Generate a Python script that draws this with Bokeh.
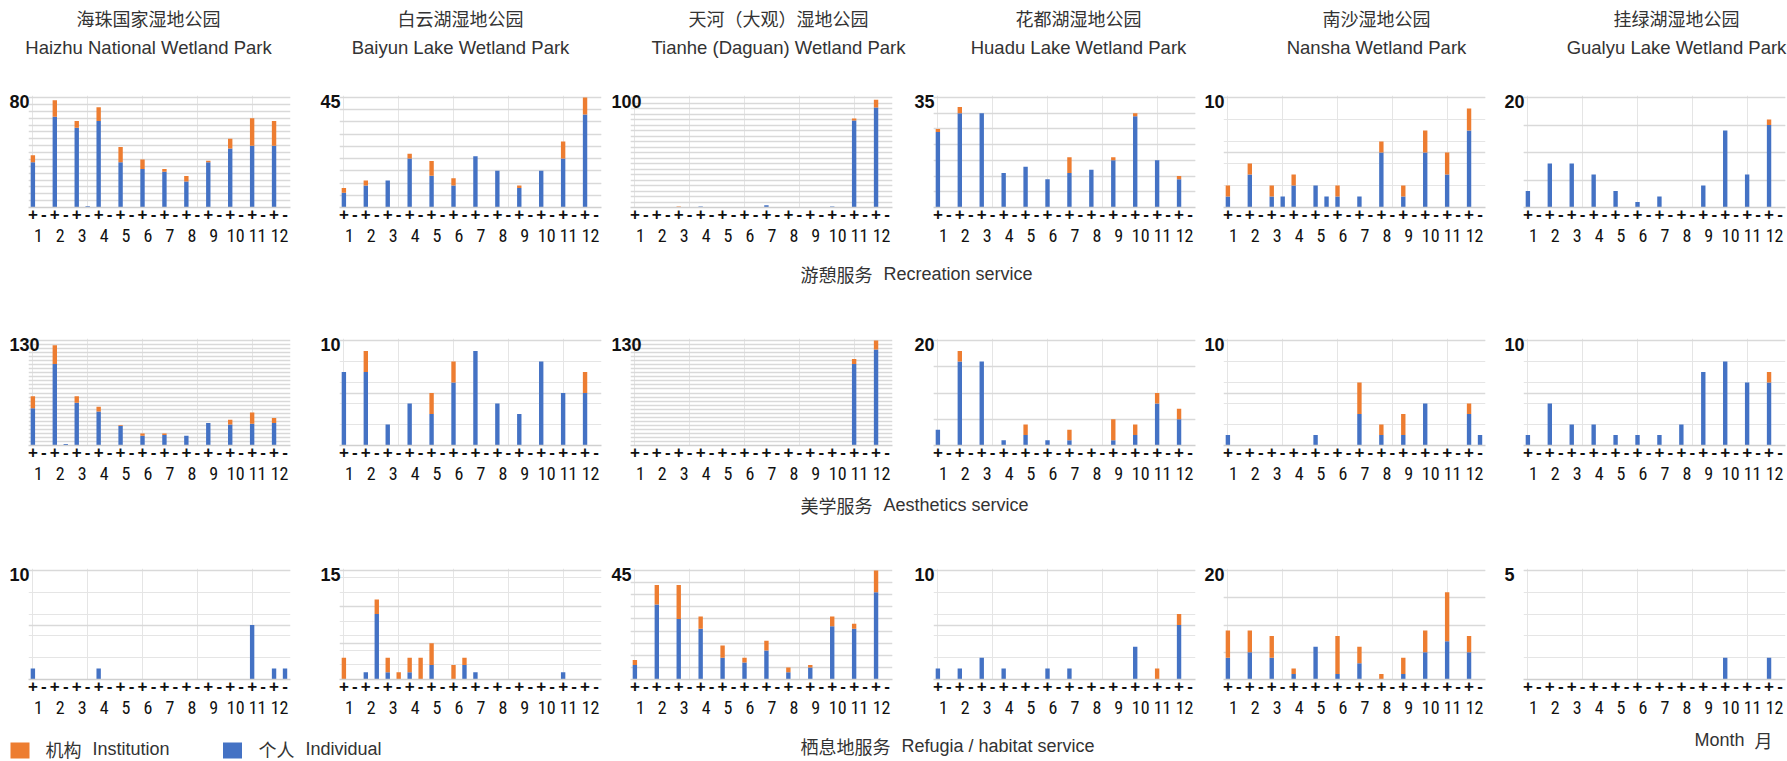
from bokeh.plotting import figure
from bokeh.layouts import row, column
from bokeh.models import Range1d, FixedTicker, LinearAxis, Grid, ColumnDataSource
from bokeh.core.properties import value
from bokeh.embed import file_html
from bokeh.resources import INLINE

# ---------------- data ----------------
MONTHS = ["1", "2", "3", "4", "5", "6", "7", "8", "9", "10", "11", "12"]
SIGNS = ["+", "-"]
PARKS_CN = ["海珠国家湿地公园", "白云湖湿地公园", "天河（大观）湿地公园", "花都湖湿地公园", "南沙湿地公园", "挂绿湖湿地公园"]
PARKS_EN = ["Haizhu National Wetland Park", "Baiyun Lake Wetland Park", "Tianhe (Daguan) Wetland Park",
            "Huadu Lake Wetland Park", "Nansha Wetland Park", "Gualyu Lake Wetland Park"]
SERVICES_CN = ["游憩服务", "美学服务", "栖息地服务"]
SERVICES_EN = ["Recreation service", "Aesthetics service", "Refugia / habitat service"]
LEGEND_CN = ["机构", "个人"]
LEGEND_EN = ["Institution", "Individual"]

YMAX_REC = [80, 45, 100, 35, 10, 20]
YMAX_AES = [130, 10, 130, 20, 10, 10]
YMAX_HAB = [10, 15, 45, 10, 20, 5]

# Recreation service: individual / institution, "+" and "-"
rec_haizhu_ind = [33, 66, 58, 63, 33, 28, 26, 19, 33, 43, 45, 45]
rec_haizhu_inst = [5, 12, 5, 10, 11, 7, 2, 4, 1, 7, 20, 18]
rec_haizhu_ind_neg = [0, 0, 1, 0, 0, 0, 0, 0, 0, 0, 0, 0]
rec_haizhu_inst_neg = [0, 0, 0, 0, 0, 0, 0, 0, 0, 0, 0, 0]
rec_baiyun_ind = [6, 9, 11, 20, 13, 9, 21, 15, 8, 15, 20, 38]
rec_baiyun_inst = [2, 2, 0, 2, 6, 3, 0, 0, 1, 0, 7, 7]
rec_baiyun_ind_neg = [0, 0, 0, 0, 0, 0, 0, 0, 0, 0, 0, 0]
rec_baiyun_inst_neg = [0, 0, 0, 0, 0, 0, 0, 0, 0, 0, 0, 0]
rec_tianhe_ind = [0, 0, 0, 1, 0, 0, 2, 0, 0, 1, 79, 91]
rec_tianhe_inst = [0, 0, 1, 0, 0, 0, 0, 0, 0, 0, 2, 7]
rec_tianhe_ind_neg = [0, 0, 0, 0, 0, 0, 0, 0, 0, 0, 0, 0]
rec_tianhe_inst_neg = [0, 0, 0, 0, 0, 0, 0, 0, 0, 0, 0, 0]
rec_huadu_ind = [24, 30, 30, 11, 13, 9, 11, 12, 15, 29, 15, 9]
rec_huadu_inst = [1, 2, 0, 0, 0, 0, 5, 0, 1, 1, 0, 1]
rec_huadu_ind_neg = [0, 0, 0, 0, 0, 0, 0, 0, 0, 0, 0, 0]
rec_huadu_inst_neg = [0, 0, 0, 0, 0, 0, 0, 0, 0, 0, 0, 0]
rec_nansha_ind = [1, 3, 1, 2, 2, 1, 1, 5, 1, 5, 3, 7]
rec_nansha_inst = [1, 1, 1, 1, 0, 1, 0, 1, 1, 2, 2, 2]
rec_nansha_ind_neg = [0, 0, 1, 0, 1, 0, 0, 0, 0, 0, 0, 0]
rec_nansha_inst_neg = [0, 0, 0, 0, 0, 0, 0, 0, 0, 0, 0, 0]
rec_gualyu_ind = [3, 8, 8, 6, 3, 1, 2, 0, 4, 14, 6, 15]
rec_gualyu_inst = [0, 0, 0, 0, 0, 0, 0, 0, 0, 0, 0, 1]
rec_gualyu_ind_neg = [0, 0, 0, 0, 0, 0, 0, 0, 0, 0, 0, 0]
rec_gualyu_inst_neg = [0, 0, 0, 0, 0, 0, 0, 0, 0, 0, 0, 0]

# Aesthetics service
aes_haizhu_ind = [46, 101, 53, 42, 24, 12, 13, 12, 28, 26, 27, 28]
aes_haizhu_inst = [15, 23, 8, 6, 1, 3, 2, 0, 0, 6, 14, 6]
aes_haizhu_ind_neg = [0, 2, 0, 0, 0, 0, 0, 0, 0, 0, 0, 0]
aes_haizhu_inst_neg = [0, 0, 0, 0, 0, 0, 0, 0, 0, 0, 0, 0]
aes_baiyun_ind = [7, 7, 2, 4, 3, 6, 9, 4, 3, 8, 5, 5]
aes_baiyun_inst = [0, 2, 0, 0, 2, 2, 0, 0, 0, 0, 0, 2]
aes_baiyun_ind_neg = [0, 0, 0, 0, 0, 0, 0, 0, 0, 0, 0, 0]
aes_baiyun_inst_neg = [0, 0, 0, 0, 0, 0, 0, 0, 0, 0, 0, 0]
aes_tianhe_ind = [0, 0, 0, 0, 0, 0, 0, 0, 0, 0, 101, 119]
aes_tianhe_inst = [0, 0, 0, 0, 0, 0, 0, 0, 0, 0, 6, 11]
aes_tianhe_ind_neg = [0, 0, 0, 0, 0, 0, 0, 0, 0, 0, 0, 0]
aes_tianhe_inst_neg = [0, 0, 0, 0, 0, 0, 0, 0, 0, 0, 0, 0]
aes_huadu_ind = [3, 16, 16, 1, 2, 1, 1, 0, 1, 2, 8, 5]
aes_huadu_inst = [0, 2, 0, 0, 2, 0, 2, 0, 4, 2, 2, 2]
aes_huadu_ind_neg = [0, 0, 0, 0, 0, 0, 0, 0, 0, 0, 0, 0]
aes_huadu_inst_neg = [0, 0, 0, 0, 0, 0, 0, 0, 0, 0, 0, 0]
aes_nansha_ind = [1, 0, 0, 0, 1, 0, 3, 1, 1, 4, 0, 3]
aes_nansha_inst = [0, 0, 0, 0, 0, 0, 3, 1, 2, 0, 0, 1]
aes_nansha_ind_neg = [0, 0, 0, 0, 0, 0, 0, 0, 0, 0, 0, 1]
aes_nansha_inst_neg = [0, 0, 0, 0, 0, 0, 0, 0, 0, 0, 0, 0]
aes_gualyu_ind = [1, 4, 2, 2, 1, 1, 1, 2, 7, 8, 6, 6]
aes_gualyu_inst = [0, 0, 0, 0, 0, 0, 0, 0, 0, 0, 0, 1]
aes_gualyu_ind_neg = [0, 0, 0, 0, 0, 0, 0, 0, 0, 0, 0, 0]
aes_gualyu_inst_neg = [0, 0, 0, 0, 0, 0, 0, 0, 0, 0, 0, 0]

# Refugia / habitat service
hab_haizhu_ind = [1, 0, 0, 1, 0, 0, 0, 0, 0, 0, 5, 1]
hab_haizhu_inst = [0, 0, 0, 0, 0, 0, 0, 0, 0, 0, 0, 0]
hab_haizhu_ind_neg = [0, 0, 0, 0, 0, 0, 0, 0, 0, 0, 0, 1]
hab_haizhu_inst_neg = [0, 0, 0, 0, 0, 0, 0, 0, 0, 0, 0, 0]
hab_baiyun_ind = [0, 1, 1, 1, 2, 0, 1, 0, 0, 0, 1, 0]
hab_baiyun_inst = [3, 0, 2, 2, 3, 2, 0, 0, 0, 0, 0, 0]
hab_baiyun_ind_neg = [0, 9, 0, 0, 0, 2, 0, 0, 0, 0, 0, 0]
hab_baiyun_inst_neg = [0, 2, 1, 3, 0, 1, 0, 0, 0, 0, 0, 0]
hab_tianhe_ind = [6, 31, 25, 21, 9, 7, 12, 3, 5, 22, 21, 36]
hab_tianhe_inst = [2, 8, 14, 5, 5, 2, 4, 2, 1, 4, 2, 9]
hab_tianhe_ind_neg = [0, 0, 0, 0, 0, 0, 0, 0, 0, 0, 0, 0]
hab_tianhe_inst_neg = [0, 0, 0, 0, 0, 0, 0, 0, 0, 0, 0, 0]
hab_huadu_ind = [1, 1, 2, 1, 0, 1, 1, 0, 0, 3, 0, 5]
hab_huadu_inst = [0, 0, 0, 0, 0, 0, 0, 0, 0, 0, 1, 1]
hab_huadu_ind_neg = [0, 0, 0, 0, 0, 0, 0, 0, 0, 0, 0, 0]
hab_huadu_inst_neg = [0, 0, 0, 0, 0, 0, 0, 0, 0, 0, 0, 0]
hab_nansha_ind = [4, 5, 4, 1, 6, 1, 3, 0, 1, 5, 7, 5]
hab_nansha_inst = [5, 4, 4, 1, 0, 7, 3, 1, 3, 4, 9, 3]
hab_nansha_ind_neg = [0, 0, 0, 0, 0, 0, 0, 0, 0, 0, 0, 0]
hab_nansha_inst_neg = [0, 0, 0, 0, 0, 0, 0, 0, 0, 0, 0, 0]
hab_gualyu_ind = [0, 0, 0, 0, 0, 0, 0, 0, 0, 1, 0, 1]
hab_gualyu_inst = [0, 0, 0, 0, 0, 0, 0, 0, 0, 0, 0, 0]
hab_gualyu_ind_neg = [0, 0, 0, 0, 0, 0, 0, 0, 0, 0, 0, 0]
hab_gualyu_inst_neg = [0, 0, 0, 0, 0, 0, 0, 0, 0, 0, 0, 0]

PANELS = [
    [(rec_haizhu_ind, rec_haizhu_inst, rec_haizhu_ind_neg, rec_haizhu_inst_neg),
     (rec_baiyun_ind, rec_baiyun_inst, rec_baiyun_ind_neg, rec_baiyun_inst_neg),
     (rec_tianhe_ind, rec_tianhe_inst, rec_tianhe_ind_neg, rec_tianhe_inst_neg),
     (rec_huadu_ind, rec_huadu_inst, rec_huadu_ind_neg, rec_huadu_inst_neg),
     (rec_nansha_ind, rec_nansha_inst, rec_nansha_ind_neg, rec_nansha_inst_neg),
     (rec_gualyu_ind, rec_gualyu_inst, rec_gualyu_ind_neg, rec_gualyu_inst_neg)],
    [(aes_haizhu_ind, aes_haizhu_inst, aes_haizhu_ind_neg, aes_haizhu_inst_neg),
     (aes_baiyun_ind, aes_baiyun_inst, aes_baiyun_ind_neg, aes_baiyun_inst_neg),
     (aes_tianhe_ind, aes_tianhe_inst, aes_tianhe_ind_neg, aes_tianhe_inst_neg),
     (aes_huadu_ind, aes_huadu_inst, aes_huadu_ind_neg, aes_huadu_inst_neg),
     (aes_nansha_ind, aes_nansha_inst, aes_nansha_ind_neg, aes_nansha_inst_neg),
     (aes_gualyu_ind, aes_gualyu_inst, aes_gualyu_ind_neg, aes_gualyu_inst_neg)],
    [(hab_haizhu_ind, hab_haizhu_inst, hab_haizhu_ind_neg, hab_haizhu_inst_neg),
     (hab_baiyun_ind, hab_baiyun_inst, hab_baiyun_ind_neg, hab_baiyun_inst_neg),
     (hab_tianhe_ind, hab_tianhe_inst, hab_tianhe_ind_neg, hab_tianhe_inst_neg),
     (hab_huadu_ind, hab_huadu_inst, hab_huadu_ind_neg, hab_huadu_inst_neg),
     (hab_nansha_ind, hab_nansha_inst, hab_nansha_ind_neg, hab_nansha_inst_neg),
     (hab_gualyu_ind, hab_gualyu_inst, hab_gualyu_ind_neg, hab_gualyu_inst_neg)],
]
YMAX = [YMAX_REC, YMAX_AES, YMAX_HAB]

# ---------------- style / layout ----------------
BLUE = "#4472C4"
ORANGE = "#ED7D31"
GRID = "#D9D9D9"
TXT = "#333333"
LATIN = "Liberation Sans"
CJK = "Noto Sans CJK SC"
NARROW = ("Noto Sans Condensed, Noto Sans SemiCondensed, Roboto Condensed, "
          "DejaVu Sans Condensed, Liberation Sans Narrow, Liberation Sans")

CANVAS_X = [0, 310, 606, 908, 1200, 1498, 1787]
FRAME_L = [28, 339, 630, 933, 1223, 1523]
FRAME_W = 262
TITLE_CX = [148, 460, 778, 1078, 1376, 1676]
# (canvas top, frame top, frame bottom, canvas bottom) in page coordinates
ROWS = [(75, 97, 207, 255), (320, 340, 445, 492), (550, 570, 679, 726)]
PAGE_H = 761


def panel(data, ymax, c, r):
    ind_p, inst_p, ind_n, inst_n = data
    ct, ft, fb, cb = ROWS[r]
    w = CANVAS_X[c + 1] - CANVAS_X[c]
    left = FRAME_L[c] - CANVAS_X[c]
    right = w - left - FRAME_W
    fh = fb - ft
    pad = 2
    y_end = ymax * (fh + pad) / fh
    p = figure(width=w, height=cb - ct,
               x_range=Range1d(-0.4, 23.5),
               y_range=Range1d(0, y_end),
               output_backend="svg", toolbar_location=None,
               x_axis_location=None, y_axis_location=None,
               min_border_left=left, min_border_right=right,
               min_border_top=ft - ct - pad, min_border_bottom=cb - fb,
               outline_line_color=None, background_fill_color="white",
               border_fill_color="white")
    xs, ind, inst = [], [], []
    for m in range(12):
        xs += [2 * m, 2 * m + 1]
        ind += [ind_p[m], ind_n[m]]
        inst += [inst_p[m], inst_n[m]]
    src = ColumnDataSource(dict(x=xs, ind=ind, inst=inst))
    p.add_layout(Grid(dimension=1, ticker=FixedTicker(ticks=list(range(5, ymax + 1, 5))),
                      grid_line_color=GRID, grid_line_width=1.3))
    p.vbar_stack(["ind", "inst"], x="x", width=0.4, source=src,
                 fill_color=[BLUE, ORANGE], line_color=None)

    # "+" / "-" row
    ax1 = LinearAxis(ticker=FixedTicker(ticks=xs),
                     major_label_overrides={x: SIGNS[x % 2] for x in xs})
    ax1.axis_line_color = "#CFCFCF"
    ax1.axis_line_width = 1.5
    ax1.major_tick_line_color = None
    ax1.minor_tick_line_color = None
    ax1.major_tick_out = 0
    ax1.major_tick_in = 0
    ax1.major_label_standoff = 0
    ax1.major_label_text_font = LATIN
    ax1.major_label_text_font_style = "bold"
    ax1.major_label_text_font_size = "17px"
    ax1.major_label_text_color = "#111111"
    p.add_layout(ax1, "below")

    # month row
    mt = [2 * m + 0.5 for m in range(12)]
    ax2 = LinearAxis(ticker=FixedTicker(ticks=mt),
                     major_label_overrides={t: MONTHS[m] for m, t in enumerate(mt)})
    ax2.axis_line_color = None
    ax2.major_tick_line_color = None
    ax2.minor_tick_line_color = None
    ax2.major_tick_out = 0
    ax2.major_tick_in = 0
    ax2.major_label_standoff = 6
    ax2.major_label_text_font = NARROW
    ax2.major_label_text_font_size = "18px"
    ax2.major_label_text_color = "#111111"
    p.add_layout(ax2, "below")

    # maximum value label, left-aligned 19px left of the frame, slightly below the top gridline
    label = str(ymax)
    t = ymax - 4 * y_end / (fh + pad)
    ay = LinearAxis(ticker=FixedTicker(ticks=[t]), major_label_overrides={t: label})
    ay.axis_line_color = None
    ay.major_tick_line_color = None
    ay.minor_tick_line_color = None
    ay.major_tick_out = 0
    ay.major_tick_in = 0
    ay.major_label_standoff = 19 - 10 * len(label)
    ay.major_label_text_font = LATIN
    ay.major_label_text_font_style = "bold"
    ay.major_label_text_font_size = "18px"
    ay.major_label_text_color = "#111111"
    p.add_layout(ay, "left")
    return p


def text_fig(top, bottom):
    p = figure(width=CANVAS_X[-1] - CANVAS_X[0], height=bottom - top,
               x_range=Range1d(CANVAS_X[0], CANVAS_X[-1]), y_range=Range1d(bottom, top),
               output_backend="svg", toolbar_location=None,
               x_axis_location=None, y_axis_location=None,
               min_border=0, outline_line_color=None)
    p.xgrid.visible = False
    p.ygrid.visible = False
    return p


def put(p, xs, ys, texts, font, align="left", size="18px", color=TXT):
    p.text(x=xs, y=ys, text=texts, text_font=value(font), text_font_size=value(size),
           text_align=align, text_baseline="middle", text_color=color)


# header
head = text_fig(0, ROWS[0][0])
put(head, TITLE_CX, [17] * 6, PARKS_CN, CJK, "center")
put(head, TITLE_CX, [47] * 6, PARKS_EN, LATIN, "center", size="18.5px")

rows_figs = []
for r in range(3):
    rows_figs.append(row(*[panel(PANELS[r][c], YMAX[r][c], c, r) for c in range(6)]))

CAP_X = 800
cap1 = text_fig(ROWS[0][3], ROWS[1][0])
put(cap1, [CAP_X], [273], [SERVICES_CN[0]], CJK)
put(cap1, [CAP_X + 18 * len(SERVICES_CN[0]) + 11], [273], [SERVICES_EN[0]], LATIN)

cap2 = text_fig(ROWS[1][3], ROWS[2][0])
put(cap2, [CAP_X], [504], [SERVICES_CN[1]], CJK)
put(cap2, [CAP_X + 18 * len(SERVICES_CN[1]) + 11], [504], [SERVICES_EN[1]], LATIN)

foot = text_fig(ROWS[2][3], PAGE_H)
put(foot, [CAP_X], [745], [SERVICES_CN[2]], CJK)
put(foot, [CAP_X + 18 * len(SERVICES_CN[2]) + 11], [745], [SERVICES_EN[2]], LATIN)
put(foot, [1694], [739], ["Month"], LATIN)
put(foot, [1754], [739], ["月"], CJK)
foot.rect(x=[19.5, 232], y=[750, 750], width=19, height=16, fill_color=[ORANGE, BLUE], line_color=None)
put(foot, [45, 258], [748, 748], LEGEND_CN, CJK)
put(foot, [45 + 36 + 11, 258 + 36 + 11], [748, 748], LEGEND_EN, LATIN)

layout = column(head, rows_figs[0], cap1, rows_figs[1], cap2, rows_figs[2], foot)

open("out.html", "w").write(file_html(layout, INLINE))
